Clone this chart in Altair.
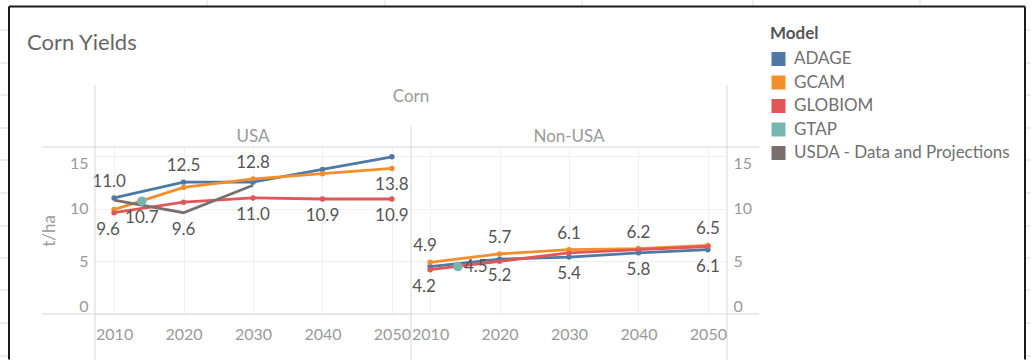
import altair as alt
import pandas as pd

# ---------------- data ----------------
YEARS = [2010, 2020, 2030, 2040, 2050]
MODELS = ["ADAGE", "GCAM", "GLOBIOM", "GTAP", "USDA - Data and Projections"]
COLORS = ["#4e79a7", "#f28e2b", "#e15759", "#76b7b2", "#79706e"]

USA_ADAGE = [11.0, 12.5, 12.5, 13.7, 14.9]
USA_GCAM = [9.9, 12.0, 12.8, 13.3, 13.8]
USA_GLOBIOM = [9.6, 10.6, 11.0, 10.9, 10.9]
USDA_YEARS = [2010, 2020, 2030]
USA_USDA = [10.8, 9.6, 12.2]
GTAP_YEAR = 2014
USA_GTAP = 10.7

NONUSA_ADAGE = [4.5, 5.2, 5.4, 5.8, 6.1]
NONUSA_GCAM = [4.9, 5.7, 6.1, 6.2, 6.5]
NONUSA_GLOBIOM = [4.2, 5.0, 5.8, 6.1, 6.4]
NONUSA_GTAP = 4.5

USDA = "USDA - Data and Projections"
# labelled points: (model, year, placement)
USA_LABELS = [("ADAGE", 2010, "above"), ("ADAGE", 2020, "above"), ("GCAM", 2030, "above"),
              ("GCAM", 2050, "below"), ("GLOBIOM", 2010, "below"), ("GTAP", 2014, "below"),
              (USDA, 2020, "below"), ("GLOBIOM", 2030, "below"),
              ("GLOBIOM", 2040, "below"), ("GLOBIOM", 2050, "below")]
NONUSA_LABELS = ([("GCAM", y, "above") for y in YEARS] + [("GLOBIOM", 2010, "below")]
                 + [("ADAGE", y, "below") for y in YEARS[1:]] + [("GTAP", 2014, "right")])


def series_df(adage, gcam, globiom, gtap, usda_years=None, usda=None):
    rows = []
    for m, vals in (("ADAGE", adage), ("GCAM", gcam), ("GLOBIOM", globiom)):
        rows += [{"model": m, "year": y, "value": v} for y, v in zip(YEARS, vals)]
    rows.append({"model": "GTAP", "year": GTAP_YEAR, "value": gtap})
    if usda:
        rows += [{"model": USDA, "year": y, "value": v} for y, v in zip(usda_years, usda)]
    return pd.DataFrame(rows)


usa_df = series_df(USA_ADAGE, USA_GCAM, USA_GLOBIOM, USA_GTAP, USDA_YEARS, USA_USDA)
non_df = series_df(NONUSA_ADAGE, NONUSA_GCAM, NONUSA_GLOBIOM, NONUSA_GTAP)


def label_df(df, labels):
    lab = pd.DataFrame(labels, columns=["model", "year", "place"])
    return lab.merge(df, on=["model", "year"])


usa_lab = label_df(usa_df, USA_LABELS)
non_lab = label_df(non_df, NONUSA_LABELS)

# ---------------- styling ----------------
FONT = "Lato"
AXIS_GRAY = "#9a9a9a"
VALUE_GRAY = "#555555"
LINE_GRAY = "#d6d6d6"
SHEET_GRAY = "#d9d9d9"
OX, OY = 95, 147          # page position of the left panel's plot origin
PW, PH = 316, 167
ONE = alt.Data(values=[{}])


def rule(x1, y1, x2, y2, color, w=1, ox=OX, oy=OY):
    return alt.Chart(ONE).mark_rule(color=color, strokeWidth=w).encode(
        x=alt.value(x1 - ox), x2=alt.value(x2 - ox),
        y=alt.value(y1 - oy), y2=alt.value(y2 - oy))


def text(s, x, y, size, color, align="center", weight="normal", ox=OX, oy=OY):
    return alt.Chart(ONE).mark_text(text=s, fontSize=size, color=color, align=align,
                                    baseline="middle", font=FONT, fontWeight=weight).encode(
        x=alt.value(x - ox), y=alt.value(y - oy))


def panel(df, lab, header, left, ox):
    xenc = alt.X("year:Q", scale=alt.Scale(domain=[2007.25, 2052.75], nice=False, zero=False),
                 axis=alt.Axis(values=YEARS, format="d", title=None, labelFlush=False,
                               labelPadding=12, gridColor="#f0f0f0"))
    yenc = alt.Y("value:Q", scale=alt.Scale(domain=[0, 15.83], nice=False),
                 axis=alt.Axis(values=[0, 5, 10, 15], orient="left" if left else "right",
                               title="t/ha" if left else None, labelFlush=10,
                               labelPadding=7 if left else 6, titlePadding=11,
                               gridColor="#f0f0f0"))
    if left:
        legend = None
    else:
        legend = alt.Legend(orient="none", legendX=359, legendY=-121, title="Model",
                            symbolType="square", symbolSize=196, symbolStrokeWidth=0,
                            symbolOpacity=1, labelFontSize=17, titleFontSize=17,
                            titleFontWeight="bold", titleColor=VALUE_GRAY, labelColor="#707070",
                            rowPadding=5.5, labelOffset=7, titlePadding=7.5, padding=0,
                            labelFont=FONT, titleFont=FONT, labelLimit=400)
    color = alt.Color("model:N", scale=alt.Scale(domain=MODELS, range=COLORS), legend=legend)
    base = alt.Chart(df).encode(x=xenc, y=yenc, color=color)

    dots = base.transform_filter(
        alt.FieldOneOfPredicate(field="model", oneOf=["ADAGE", "GCAM", "GLOBIOM"])
    ).mark_circle(size=30, opacity=1)
    lines = base.transform_filter(alt.datum.model != "GTAP").mark_line(strokeWidth=2.8)
    gtap = base.transform_filter(alt.datum.model == "GTAP").mark_circle(size=90, opacity=1)

    lbase = alt.Chart(lab).encode(x=xenc, y=yenc, text=alt.Text("value:Q", format=".1f"))
    tstyle = dict(fontSize=17, color=VALUE_GRAY, font=FONT)
    first = alt.datum.year == 2010
    later = alt.datum.year != 2010
    above = lbase.transform_filter(alt.datum.place == "above").transform_filter(later).mark_text(
        dy=-16, baseline="middle", **tstyle)
    above0 = lbase.transform_filter(alt.datum.place == "above").transform_filter(first).mark_text(
        dy=-16, dx=-5, baseline="middle", **tstyle)
    below = lbase.transform_filter(alt.datum.place == "below").transform_filter(later).mark_text(
        dy=17, baseline="middle", **tstyle)
    below0 = lbase.transform_filter(alt.datum.place == "below").transform_filter(first).mark_text(
        dy=17, dx=-6, baseline="middle", **tstyle)
    right = lbase.transform_filter(alt.datum.place == "right").mark_text(
        dx=6, align="left", baseline="middle", **tstyle)

    deco = [text(header, ox + PW / 2, 137, 17, AXIS_GRAY, ox=ox)]
    layers = [dots, lines, gtap, above, above0, below, below0, right] + deco
    if left:
        # structural lines of the crosstab
        layers += [
            rule(42, 147, 759, 147, LINE_GRAY),
            rule(42, 314, 759, 314, LINE_GRAY),
            rule(95, 85, 95, 360, LINE_GRAY),
            rule(411, 126, 411, 360, LINE_GRAY),
            rule(727, 85, 727, 360, LINE_GRAY),
            text("Corn", 411, 97, 17, AXIS_GRAY),
            text("Corn Yields", 27, 43, 22, "#666666", align="left"),
        ]
        # spreadsheet grid visible around the frame
        for yy in [30, 63, 95, 128, 160, 193, 226, 258, 290, 323, 356]:
            layers.append(rule(0.5, yy, 8, yy, SHEET_GRAY))
            layers.append(rule(1026, yy, 1030.5, yy, SHEET_GRAY))
        for xx in [207, 385, 582, 753, 920]:
            layers.append(rule(xx, 0.5, xx, 5, SHEET_GRAY))
        # black frame
        layers += [
            rule(9, 6.5, 9, 359.5, "#1a1a1a", 2),
            rule(9, 6.5, 1025, 6.5, "#1a1a1a", 2),
            rule(1025, 6.5, 1025, 359.5, "#1a1a1a", 2),
        ]
    return alt.layer(*layers).properties(width=PW, height=PH)


left = panel(usa_df, usa_lab, "USA", True, OX)
right = panel(non_df, non_lab, "Non-USA", False, OX + PW)

chart = alt.hconcat(left, right, spacing=0, bounds="flush").resolve_scale(
    color="independent", y="independent", x="independent"
).resolve_legend(color="independent").properties(
    padding=0, background="white"
).configure(font=FONT).configure_view(stroke=None).configure_axis(
    labelFont=FONT, titleFont=FONT, labelFontSize=16, titleFontSize=17,
    labelColor=AXIS_GRAY, titleColor=AXIS_GRAY, titleFontWeight="normal",
    domain=False, ticks=False, grid=True
)

chart.save("out.html", embed_options={"renderer": "svg", "actions": False})
